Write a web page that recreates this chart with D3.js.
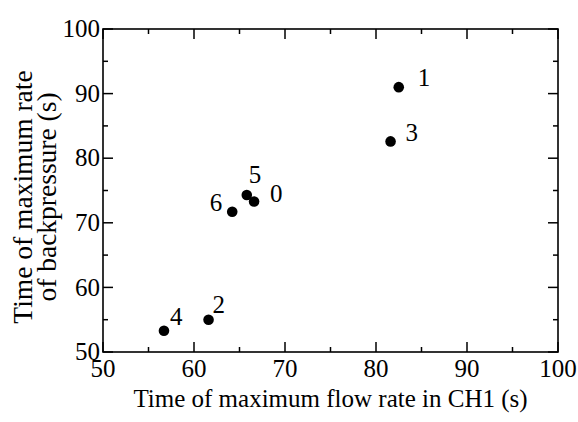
<!DOCTYPE html>
<html>
<head>
<meta charset="utf-8">
<script src="https://cdn.jsdelivr.net/npm/d3@7"></script>
<style>
  body { margin: 0; background: #fff; }
</style>
</head>
<body>
<div id="chart"></div>
<script>
'use strict';

// data
var ids     = ['0', '1', '2', '3', '4', '5', '6'];
var flowMax = [66.6, 82.5, 61.6, 81.6, 56.7, 65.8, 64.2];
var backMax = [73.3, 91.0, 55.0, 82.6, 53.3, 74.3, 71.7];
var xTicks  = [50, 60, 70, 80, 90, 100];
var yTicks  = [50, 60, 70, 80, 90, 100];
var xLabel  = 'Time of maximum flow rate in CH1 (s)';
var yLabel  = ['Time of maximum rate', 'of backpressure (s)'];

// label placement around each point (pixels, anchor)
var labelPos = {
    '0': [16, 1, 'start'],
    '1': [19, -1, 'start'],
    '2': [4, -7, 'start'],
    '3': [15, 0, 'start'],
    '4': [6, -6, 'start'],
    '5': [2, -12, 'start'],
    '6': [-10, -1, 'end']
};

var FONT = 'Liberation Serif';
var FS = 25;

var W = 578, H = 422;
var margins = {left: 103, right: 20, top: 29, bottom: 70};
var cw = W - margins.left - margins.right;
var ch = H - margins.top - margins.bottom;

var svg = d3.select('#chart').append('svg')
    .attr('width', W)
    .attr('height', H);

var chart = svg.append('g')
    .attr('transform', 'translate(' + margins.left + ',' + margins.top + ')');

var xScale = d3.scaleLinear().domain([50, 100]).range([0, cw]);
var yScale = d3.scaleLinear().domain([50, 100]).range([ch, 0]);

var minorX = d3.range(55, 100, 10);
var minorY = d3.range(55, 100, 10);

function tickLines(g, vals, major, horizontal, atEnd)
{
    var len = major ? 10 : 5;
    g.selectAll(null).data(vals).enter().append('line')
        .attr('x1', function(d) { return horizontal ? xScale(d) : (atEnd ? cw : 0); })
        .attr('x2', function(d) { return horizontal ? xScale(d) : (atEnd ? cw - len : len); })
        .attr('y1', function(d) { return horizontal ? (atEnd ? 0 : ch) : yScale(d); })
        .attr('y2', function(d) { return horizontal ? (atEnd ? len : ch - len) : yScale(d); })
        .attr('stroke', '#000')
        .attr('stroke-width', 1.5);
}

var ticks = chart.append('g');
tickLines(ticks, xTicks, true, true, false);
tickLines(ticks, xTicks, true, true, true);
tickLines(ticks, minorX, false, true, false);
tickLines(ticks, minorX, false, true, true);
tickLines(ticks, yTicks, true, false, false);
tickLines(ticks, yTicks, true, false, true);
tickLines(ticks, minorY, false, false, false);
tickLines(ticks, minorY, false, false, true);

chart.append('rect')
    .attr('width', cw)
    .attr('height', ch)
    .attr('fill', 'none')
    .attr('stroke', '#000')
    .attr('stroke-width', 1.6);

// tick labels
chart.append('g').selectAll('text')
    .data(xTicks).enter().append('text')
    .attr('x', function(d) { return xScale(d); })
    .attr('y', ch + 25)
    .attr('text-anchor', 'middle')
    .attr('font-family', FONT)
    .attr('font-size', FS)
    .text(function(d) { return d; });

chart.append('g').selectAll('text')
    .data(yTicks).enter().append('text')
    .attr('x', -3)
    .attr('y', function(d) { return yScale(d); })
    .attr('dy', '0.33em')
    .attr('text-anchor', 'end')
    .attr('font-family', FONT)
    .attr('font-size', FS)
    .text(function(d) { return d; });

// axis titles
svg.append('text')
    .attr('x', margins.left + cw / 2)
    .attr('y', 407)
    .attr('text-anchor', 'middle')
    .attr('font-family', FONT)
    .attr('font-size', FS)
    .text(xLabel);

svg.append('g')
    .attr('transform', 'translate(32,197) rotate(-90)')
    .selectAll('text')
    .data(yLabel).enter().append('text')
    .attr('x', 0)
    .attr('y', function(d, i) { return i * 23.5; })
    .attr('text-anchor', 'middle')
    .attr('font-family', FONT)
    .attr('font-size', 27.5)
    .text(function(d) { return d; });

// points
var pts = ids.map(function(id, i) { return {id: id, x: flowMax[i], y: backMax[i]}; });

chart.append('g').selectAll('circle')
    .data(pts).enter().append('circle')
    .attr('cx', function(d) { return xScale(d.x); })
    .attr('cy', function(d) { return yScale(d.y); })
    .attr('r', 5.3)
    .attr('fill', '#000');

chart.append('g').selectAll('text')
    .data(pts).enter().append('text')
    .attr('x', function(d) { return xScale(d.x) + labelPos[d.id][0]; })
    .attr('y', function(d) { return yScale(d.y) + labelPos[d.id][1]; })
    .attr('text-anchor', function(d) { return labelPos[d.id][2]; })
    .attr('font-family', FONT)
    .attr('font-size', FS)
    .text(function(d) { return d.id; });
</script>
</body>
</html>
